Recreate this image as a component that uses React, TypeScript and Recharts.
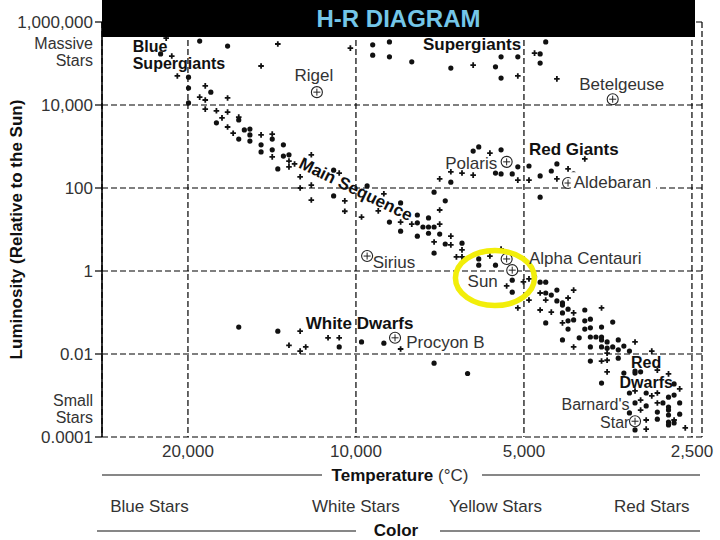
import React from "react";
import { CartesianGrid, Scatter, ScatterChart, XAxis, YAxis } from "recharts";

const FONT = '"Liberation Sans", Arial, Helvetica, sans-serif';

// x values are log10(temperature), y values are log10(luminosity relative to the Sun)
const tempTicks = [4.301, 4.0, 3.699, 3.398];
const tempTickLabels = ["20,000", "10,000", "5,000", "2,500"];

const lumTicks = [6, 4, 2, 0, -2, -4];
const lumTickLabels = ["1,000,000", "10,000", "100", "1", "0.01", "0.0001"];

const colorTicks = [4.37, 4.0, 3.75, 3.47];
const colorLabels = ["Blue Stars", "White Stars", "Yellow Stars", "Red Stars"];

const supergiantDots = [
  [4.28, 5.54], [4.23, 5.42], [4.35, 5.23], [3.97, 5.45], [3.94, 5.52], [3.97, 5.2], [3.94, 5.16], [3.9, 5.04],
  [3.83, 4.89], [3.75, 4.92], [3.74, 5.16], [3.71, 5.16], [3.74, 4.65], [3.66, 5.52], [3.67, 5.23], [3.67, 5.01],
];
const supergiantCrosses = [
  [4.34, 5.61], [4.14, 5.47], [4.01, 5.37], [4.33, 5.18], [4.17, 4.94], [3.79, 4.96], [3.71, 4.7], [3.68, 5.25], [3.64, 4.63],
];

const upperMainDots = [
  [4.3, 4.67], [4.3, 4.41], [4.26, 4.31], [4.3, 4.05], [4.25, 3.57], [4.21, 3.64], [4.2, 3.4], [4.19, 3.42],
  [4.19, 3.28], [4.15, 3.18], [4.21, 3.18], [4.19, 3.13], [4.17, 3.04], [4.13, 3.04], [4.15, 2.92], [4.17, 2.87],
  [4.13, 2.77], [4.12, 2.8], [4.14, 2.46], [4.04, 2.43], [4.04, 1.81], [3.98, 2.05], [3.92, 1.64], [3.94, 1.18],
  [3.89, 1.16], [3.89, 1.35], [3.87, 1.28], [3.88, 1.06], [3.87, 1.06], [3.86, 1.06], [3.86, 1.9], [3.84, 1.69],
  [3.92, 0.96], [3.87, 0.91], [3.85, 0.89], [3.89, 0.84], [3.84, 0.65], [3.81, 0.67], [3.86, 0.43], [3.78, 0.29],
  [3.75, 0.14], [3.78, 0.14],
];
const upperMainCrosses = [
  [4.32, 4.7], [4.27, 4.46], [4.28, 4.19], [4.27, 4.12], [4.23, 4.17], [4.27, 3.9], [4.25, 3.86], [4.23, 3.83],
  [4.24, 3.69], [4.21, 3.71], [4.23, 3.47], [4.22, 3.32], [4.17, 3.28], [4.15, 3.3], [4.15, 2.75], [4.12, 2.65],
  [4.11, 2.58], [4.12, 2.51], [4.1, 2.27], [4.1, 2.0], [4.08, 2.07], [4.08, 1.71], [4.08, 2.8], [4.03, 2.36],
  [4.02, 1.69], [4.02, 1.44], [3.95, 1.86], [3.99, 1.3], [3.96, 1.45], [3.92, 1.18], [3.9, 1.13], [3.85, 1.13],
  [3.85, 1.47], [3.86, 0.7], [3.83, 0.84], [3.83, 0.63], [3.82, 0.34], [3.81, 0.51], [3.81, 0.34], [3.74, 0.53],
  [3.76, 0.36],
];

const giantDots = [
  [3.83, 2.14], [3.75, 2.36], [3.79, 2.89], [3.78, 2.99], [3.74, 2.92], [3.71, 2.51], [3.69, 2.53], [3.64, 2.58],
  [3.65, 2.41], [3.61, 2.34], [3.67, 2.29], [3.74, 2.34], [3.72, 2.34], [3.67, 1.78],
];
const giantCrosses = [
  [3.85, 2.22], [3.83, 2.39], [3.81, 2.36], [3.79, 2.31], [3.76, 2.84], [3.62, 2.46], [3.59, 2.7], [3.69, 2.19],
  [3.64, 2.22], [3.71, 2.19],
];

const lowerMainDots = [
  [3.72, -0.22], [3.72, -0.51], [3.68, -0.14], [3.67, -0.27], [3.66, -0.27], [3.66, -0.53], [3.65, -0.58], [3.64, -0.46],
  [3.64, -0.72], [3.63, -0.77], [3.63, -0.82], [3.62, -0.92], [3.59, -0.94], [3.63, -1.01], [3.66, -1.25], [3.62, -1.2],
  [3.61, -1.18], [3.59, -1.2], [3.58, -1.16], [3.54, -1.23], [3.62, -1.4], [3.59, -1.4], [3.58, -1.37], [3.56, -1.35],
  [3.63, -1.66], [3.6, -1.61], [3.58, -1.59], [3.57, -1.59], [3.56, -1.59], [3.56, -1.66], [3.55, -1.71], [3.53, -1.66],
  [3.58, -1.83], [3.56, -1.83], [3.55, -1.86], [3.54, -1.83], [3.52, -1.81], [3.53, -1.9], [3.51, -1.93], [3.58, -2.17],
  [3.53, -2.1], [3.56, -2.7], [3.52, -2.46], [3.5, -2.46], [3.5, -2.41], [3.49, -2.43], [3.43, -2.72], [3.51, -2.94],
  [3.48, -2.94], [3.44, -3.04], [3.43, -2.99], [3.5, -3.18], [3.48, -3.25], [3.45, -3.18], [3.44, -3.28], [3.42, -3.18],
  [3.51, -3.42], [3.46, -3.4], [3.44, -3.35], [3.42, -3.45], [3.44, -3.47], [3.46, -3.57], [3.44, -3.64], [3.44, -3.71],
  [3.43, -3.66], [3.5, -3.83],
];
const lowerMainCrosses = [
  [3.73, -0.36], [3.7, -0.26], [3.71, -0.89], [3.69, -0.19], [3.67, -0.53], [3.61, -0.46], [3.69, -0.7], [3.67, -0.94],
  [3.66, -0.7], [3.62, -0.65], [3.56, -0.89], [3.65, -0.99], [3.61, -1.01], [3.63, -1.25], [3.61, -1.83], [3.5, -1.71],
  [3.55, -1.98], [3.47, -1.93], [3.56, -2.17], [3.55, -2.15], [3.55, -2.43], [3.46, -2.39], [3.44, -2.48], [3.42, -2.84],
  [3.5, -2.89], [3.47, -3.01], [3.46, -2.94], [3.49, -3.11], [3.46, -3.18], [3.49, -3.35], [3.48, -3.59], [3.43, -3.59],
  [3.48, -3.81], [3.41, -3.78],
];

const whiteDwarfDots = [[4.21, -1.35], [4.14, -1.45], [4.03, -1.83], [3.99, -1.71], [3.95, -1.74], [3.86, -2.22], [3.8, -2.47]];
const whiteDwarfCrosses = [[4.1, -1.45], [4.12, -1.79], [4.1, -1.93], [4.09, -1.83], [4.05, -1.61], [4.03, -1.61], [3.92, -1.88]];

const namedStars = [
  { name: "Rigel", logT: 4.07, logL: 4.31 },
  { name: "Betelgeuse", logT: 3.54, logL: 4.14 },
  { name: "Polaris", logT: 3.73, logL: 2.63 },
  { name: "Aldebaran", logT: 3.62, logL: 2.12 },
  { name: "Sirius", logT: 3.98, logL: 0.36 },
  { name: "Alpha Centauri", logT: 3.73, logL: 0.29 },
  { name: "Sun", logT: 3.72, logL: 0.02 },
  { name: "Procyon B", logT: 3.93, logL: -1.61 },
  { name: "Barnard's Star", logT: 3.5, logL: -3.62 },
];

const sunRing = [{ logT: 3.751, logL: -0.17 }];

const labels = [
  { text: "Blue", logT: 4.4, logL: 5.41, bold: true, size: 16 },
  { text: "Supergiants", logT: 4.4, logL: 5.0, bold: true, size: 16 },
  { text: "Supergiants", logT: 3.88, logL: 5.47, bold: true },
  { text: "Rigel", logT: 4.11, logL: 4.72 },
  { text: "Betelgeuse", logT: 3.6, logL: 4.51 },
  { text: "Red Giants", logT: 3.69, logL: 2.94, bold: true },
  { text: "Polaris", logT: 3.84, logL: 2.6 },
  { text: "Aldebaran", logT: 3.61, logL: 2.14, bg: true },
  { text: "Main Sequence", logT: 4.0, logL: 1.98, bold: true, anchor: "middle", angle: 26 },
  { text: "Sirius", logT: 3.97, logL: 0.22 },
  { text: "Alpha Centauri", logT: 3.69, logL: 0.31 },
  { text: "Sun", logT: 3.8, logL: -0.24 },
  { text: "White Dwarfs", logT: 4.09, logL: -1.25, bold: true },
  { text: "Procyon B", logT: 3.91, logL: -1.71 },
  { text: "Red", logT: 3.48, logL: -2.21, bold: true, anchor: "middle", size: 16 },
  { text: "Dwarfs", logT: 3.48, logL: -2.68, bold: true, anchor: "middle", size: 16 },
  { text: "Barnard's", logT: 3.51, logL: -3.22, anchor: "end", size: 16 },
  { text: "Star", logT: 3.51, logL: -3.65, anchor: "end", size: 16 },
];

const toPoints = (rows: number[][]) => rows.map(([logT, logL]) => ({ logT, logL }));
const dotData = toPoints([...supergiantDots, ...upperMainDots, ...giantDots, ...lowerMainDots, ...whiteDwarfDots]);
const crossData = toPoints([
  ...supergiantCrosses,
  ...upperMainCrosses,
  ...giantCrosses,
  ...lowerMainCrosses,
  ...whiteDwarfCrosses,
]);

const DotShape = (p: any) => <circle cx={p.cx} cy={p.cy} r={2.6} fill="#111" />;

const CrossShape = (p: any) => (
  <path
    d={`M${p.cx - 2.8},${p.cy}H${p.cx + 2.8}M${p.cx},${p.cy - 2.8}V${p.cy + 2.8}`}
    stroke="#111"
    strokeWidth={1.8}
  />
);

const StarShape = (p: any) => (
  <g>
    <circle cx={p.cx} cy={p.cy} r={5.5} fill="#fff" stroke="#222" strokeWidth={1.1} />
    <path
      d={`M${p.cx - 3.5},${p.cy}H${p.cx + 3.5}M${p.cx},${p.cy - 3.5}V${p.cy + 3.5}`}
      stroke="#222"
      strokeWidth={1}
    />
  </g>
);

const RingShape = (p: any) => (
  <ellipse cx={p.cx} cy={p.cy} rx={39.5} ry={27.5} fill="none" stroke="#f2ee0a" strokeWidth={5.5} />
);

const LabelShape = (p: any) => {
  const d = p.payload;
  const anchor = d.anchor || "start";
  const size = d.size || 17;
  const w = d.text.length * size * 0.52 + 6;
  return (
    <g>
      {d.bg && <rect x={p.cx - 3} y={p.cy - 10} width={w} height={20} fill="#fff" />}
      <text
        x={p.cx}
        y={p.cy}
        dy="0.36em"
        textAnchor={anchor}
        fontFamily={FONT}
        fontSize={size}
        fontWeight={d.bold ? 700 : 400}
        fill={d.bold ? "#111" : "#333"}
        transform={d.angle ? `rotate(${d.angle} ${p.cx} ${p.cy})` : undefined}
      >
        {d.text}
      </text>
    </g>
  );
};

const LumTick = (p: any) => {
  const v = p.payload.value;
  const label = lumTickLabels[lumTicks.indexOf(v)];
  const txt = { textAnchor: "end" as const, fontFamily: FONT, fill: "#333" };
  return (
    <g>
      <text x={p.x} y={p.y} dy="0.36em" fontSize={17} {...txt}>
        {label}
      </text>
      {v === 6 && (
        <>
          <text x={p.x} y={p.y + 21} dy="0.36em" fontSize={16} {...txt}>Massive</text>
          <text x={p.x} y={p.y + 38} dy="0.36em" fontSize={16} {...txt}>Stars</text>
        </>
      )}
      {v === -4 && (
        <>
          <text x={p.x} y={p.y - 37} dy="0.36em" fontSize={16} {...txt}>Small</text>
          <text x={p.x} y={p.y - 20} dy="0.36em" fontSize={16} {...txt}>Stars</text>
        </>
      )}
    </g>
  );
};

const TempTick = (p: any) => (
  <text x={p.x} y={p.y} dy="0.71em" textAnchor="middle" fontFamily={FONT} fontSize={17} fill="#333">
    {tempTickLabels[tempTicks.indexOf(p.payload.value)]}
  </text>
);

const ColorTick = (p: any) => (
  <text x={p.x} y={p.y} dy="0.71em" textAnchor="middle" fontFamily={FONT} fontSize={17} fill="#333">
    {colorLabels[colorTicks.indexOf(p.payload.value)]}
  </text>
);

const TempLabel = (props: any) => {
  const { x, y, width } = props.viewBox;
  const cx = x + width / 2 - 2;
  const ly = y + 38;
  return (
    <g>
      <line x1={x} x2={cx - 78} y1={ly} y2={ly} stroke="#111" strokeWidth={1.2} />
      <line x1={cx + 82} x2={x + width - 2} y1={ly} y2={ly} stroke="#111" strokeWidth={1.2} />
      <text x={cx} y={ly} dy="0.36em" textAnchor="middle" fontFamily={FONT} fontSize={17} fill="#111">
        <tspan fontWeight={700}>Temperature</tspan>
        <tspan fill="#333"> (°C)</tspan>
      </text>
    </g>
  );
};

const ColorLabel = (props: any) => {
  const { x, y, width } = props.viewBox;
  const cx = x + width / 2 - 6;
  const ly = y + 38;
  return (
    <g>
      <line x1={x - 5} x2={cx - 40} y1={ly + 1} y2={ly + 1} stroke="#111" strokeWidth={1.2} />
      <line x1={cx + 44} x2={x + width - 2} y1={ly + 1} y2={ly + 1} stroke="#111" strokeWidth={1.2} />
      <text x={cx} y={ly} dy="0.36em" textAnchor="middle" fontFamily={FONT} fontSize={17} fontWeight={700} fill="#111">
        Color
      </text>
    </g>
  );
};

const LumLabel = (props: any) => {
  const { x, y, height } = props.viewBox;
  const cy = y + height / 2;
  return (
    <text
      x={x + 22}
      y={cy}
      transform={`rotate(-90 ${x + 22} ${cy})`}
      textAnchor="middle"
      fontFamily={FONT}
      fontSize={17}
      fontWeight={700}
      fill="#111"
    >
      Luminosity (Relative to the Sun)
    </text>
  );
};

const App = () => {
  return (
    <div style={{ position: "absolute", left: 0, top: 0, width: 720, height: 540, background: "#fff" }}>
      <ScatterChart width={720} height={540} margin={{ top: 22, right: 18, bottom: 0, left: 0 }}>
        <CartesianGrid stroke="#000" strokeWidth={1.2} strokeDasharray="6 3" />
        <XAxis
          xAxisId={0}
          type="number"
          dataKey="logT"
          domain={[3.38, 4.455]}
          allowDataOverflow
          reversed
          ticks={tempTicks}
          tick={TempTick}
          tickLine={false}
          axisLine={false}
          height={55}
          label={TempLabel}
        />
        <XAxis
          xAxisId="color"
          type="number"
          dataKey="logT"
          domain={[3.38, 4.455]}
          allowDataOverflow
          reversed
          ticks={colorTicks}
          tick={ColorTick}
          tickLine={false}
          axisLine={false}
          height={48}
          label={ColorLabel}
        />
        <YAxis
          type="number"
          dataKey="logL"
          domain={[-4, 6]}
          allowDataOverflow
          ticks={lumTicks}
          tick={LumTick}
          tickSize={7}
          tickLine={{ stroke: "#000", strokeWidth: 1.2 }}
          axisLine={{ stroke: "#000", strokeWidth: 1.6 }}
          width={102}
          label={LumLabel}
        />
        <Scatter data={dotData} shape={DotShape} isAnimationActive={false} />
        <Scatter data={crossData} shape={CrossShape} isAnimationActive={false} />
        <Scatter data={namedStars} shape={StarShape} isAnimationActive={false} />
        <Scatter data={sunRing} shape={RingShape} isAnimationActive={false} />
        <Scatter data={labels} shape={LabelShape} isAnimationActive={false} />
      </ScatterChart>
      <div
        style={{
          position: "absolute",
          left: 102,
          top: 0,
          width: 593,
          height: 37,
          background: "#000",
          color: "#74c6e8",
          fontFamily: FONT,
          fontWeight: 700,
          fontSize: 24,
          lineHeight: "37px",
          textAlign: "center",
        }}
      >
        H-R DIAGRAM
      </div>
    </div>
  );
};

export default App;
